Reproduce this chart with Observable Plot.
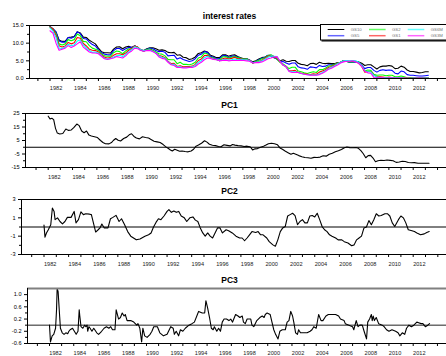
<!DOCTYPE html>
<html>
<head>
<meta charset="utf-8">
<script src="https://cdn.jsdelivr.net/npm/d3@7"></script>
<script src="https://cdn.jsdelivr.net/npm/@observablehq/plot@0.6"></script>
<style>
  body { margin: 0; background: #fff; }
  #chart { position: relative; width: 446px; height: 356px; overflow: hidden;
           font-family: "Liberation Sans", Arial, sans-serif; }
  #chart svg { position: absolute; left: 0; }
  .ttl { position: absolute; left: 0; width: 459px; text-align: center;
         font-weight: bold; font-size: 8.5px; line-height: 10px; color: #000; }
</style>
</head>
<body>
<div id="chart"></div>
<script>
// Treasury constant-maturity yields, quarterly averages from 1982Q1 to 2013Q2 (percent)
const gs10 = [
  14.6,13.9,13.1,10.9, 10.5,10.5,11.6,11.7, 11.9,13.2,12.9,11.7, 11.6,10.8,10.3,9.8,
  8.6,7.6,7.3,7.3, 7.2,8.3,8.9,9.0, 8.4,8.9,9.1,8.8, 9.2,8.8,8.1,7.9,
  8.4,8.7,8.7,8.4, 8.0,8.1,7.9,7.4, 7.3,7.4,6.6,6.7, 6.0,5.9,5.4,5.6,
  6.1,7.1,7.3,7.8, 7.5,6.6,6.3,5.9, 5.9,6.7,6.7,6.3, 6.6,6.7,6.2,5.9,
  5.6,5.6,5.2,4.7, 5.0,5.5,5.9,6.1, 6.5,6.2,5.9,5.6, 5.0,5.3,4.9,4.8,
  5.1,5.1,4.3,4.0, 3.9,3.6,4.2,4.3, 4.0,4.6,4.3,4.2, 4.3,4.2,4.2,4.5,
  4.6,5.1,4.9,4.6, 4.7,4.8,4.7,4.3, 3.7,3.9,3.9,3.3, 2.7,3.3,3.5,3.5,
  3.7,3.5,2.8,2.9, 3.5,3.2,2.4,2.0, 2.0,1.8,1.6,1.7, 1.9,1.9
];
const gs5 = [
  14.7,14.1,13.2,10.6, 10.3,10.3,11.6,11.4, 11.8,13.2,12.7,11.3, 11.2,10.3,9.6,9.2,
  8.1,7.3,6.9,6.7, 6.7,7.9,8.5,8.5, 7.9,8.4,8.8,8.8, 9.3,8.8,8.0,7.8,
  8.3,8.6,8.4,7.9, 7.6,7.7,7.4,6.4, 6.5,6.6,5.5,5.9, 5.4,5.1,4.8,5.0,
  5.6,6.6,6.9,7.6, 7.4,6.3,6.0,5.6, 5.6,6.4,6.5,5.9, 6.3,6.4,6.0,5.7,
  5.5,5.6,5.2,4.4, 4.8,5.3,5.7,6.0, 6.6,6.6,6.0,5.4, 4.7,4.8,4.4,4.0,
  4.4,4.4,3.3,3.0, 2.9,2.6,3.3,3.2, 3.0,3.7,3.4,3.5, 3.9,3.9,4.0,4.4,
  4.6,5.0,4.8,4.6, 4.6,4.7,4.5,3.8, 2.8,3.1,3.1,2.3, 1.8,2.3,2.5,2.3,
  2.4,2.3,1.5,1.3, 2.1,1.9,1.1,0.9, 0.9,0.8,0.7,0.7, 0.8,0.9
];
const gs2 = [
  14.6,14.0,12.7,9.8, 9.5,9.8,11.0,10.7, 11.0,12.6,12.1,10.5, 10.4,9.3,8.6,8.3,
  7.9,7.0,6.4,6.3, 6.3,7.3,7.8,7.6, 7.0,7.8,8.4,8.5, 9.2,8.8,8.0,7.8,
  8.2,8.4,8.0,7.5, 7.0,6.9,6.4,5.4, 5.3,5.3,4.2,4.6, 4.0,4.0,3.9,4.1,
  4.6,5.8,6.1,7.2, 7.0,6.0,5.8,5.4, 5.2,6.1,6.2,5.8, 6.0,6.2,5.9,5.7,
  5.5,5.6,5.0,4.4, 4.8,5.2,5.6,5.9, 6.5,6.7,6.2,5.5, 4.6,4.1,3.5,2.8,
  3.2,3.2,2.1,1.9, 1.6,1.4,1.7,1.9, 1.7,2.5,2.5,2.9, 3.5,3.7,4.0,4.4,
  4.6,5.0,4.8,4.7, 4.7,4.8,4.4,3.6, 2.1,2.4,2.3,1.2, 0.9,1.0,1.0,0.8,
  0.9,0.9,0.5,0.5, 0.7,0.5,0.2,0.25, 0.3,0.3,0.25,0.27, 0.26,0.25
];
const gs1 = [
  14.6,14.0,12.2,9.3, 8.9,9.2,10.2,9.8, 10.1,11.6,11.4,9.9, 9.2,8.3,8.0,7.9,
  7.5,6.7,6.0,5.8, 5.9,6.6,7.0,7.0, 6.7,7.2,8.0,8.5, 9.2,8.9,8.1,7.8,
  8.0,8.2,7.8,7.2, 6.5,6.3,5.9,4.9, 4.2,4.3,3.4,3.6, 3.3,3.4,3.4,3.5,
  4.0,5.1,5.5,6.5, 6.6,5.9,5.6,5.4, 5.0,5.6,5.8,5.5, 5.7,6.0,5.6,5.6,
  5.4,5.4,5.1,4.4, 4.6,4.8,5.2,5.7, 6.3,6.5,6.2,5.8, 4.7,3.8,3.3,2.2,
  2.2,2.3,1.7,1.5, 1.3,1.2,1.1,1.3, 1.2,1.8,2.1,2.5, 3.1,3.4,3.8,4.3,
  4.6,5.0,5.0,4.9, 5.0,4.9,4.3,3.4, 1.8,2.0,2.0,1.0, 0.5,0.5,0.4,0.3,
  0.4,0.3,0.25,0.25, 0.25,0.18,0.11,0.11, 0.16,0.18,0.17,0.17, 0.15,0.13
];
const gs6m = [
  14.3,13.4,11.6,8.6, 8.5,8.9,9.7,9.3, 9.5,10.6,10.9,9.5, 8.7,7.9,7.4,7.5,
  7.2,6.5,5.7,5.5, 5.7,6.1,6.4,6.6, 6.2,6.8,7.6,8.2, 9.0,8.7,8.1,7.9,
  8.0,8.1,7.7,7.2, 6.4,6.0,5.7,4.8, 4.0,4.0,3.3,3.3, 3.1,3.2,3.2,3.3,
  3.7,4.6,5.0,5.9, 6.3,5.8,5.5,5.4, 5.0,5.3,5.4,5.2, 5.3,5.5,5.3,5.4,
  5.3,5.3,5.0,4.5, 4.6,4.7,5.0,5.4, 6.0,6.4,6.3,6.2, 4.9,3.8,3.3,2.1,
  1.9,1.9,1.7,1.4, 1.2,1.1,1.0,1.0, 1.0,1.3,1.7,2.2, 2.8,3.2,3.6,4.2,
  4.6,5.0,5.1,5.0, 5.1,5.0,4.6,3.6, 2.1,1.9,1.9,0.9, 0.4,0.3,0.2,0.2,
  0.2,0.2,0.2,0.19, 0.17,0.11,0.07,0.06, 0.1,0.14,0.14,0.13, 0.12,0.1
];
const gs3m = [
  13.5,12.8,10.0,8.0, 8.3,8.6,9.3,8.8, 9.2,9.8,10.4,8.9, 8.2,7.5,7.2,7.2,
  7.0,6.3,5.6,5.4, 5.6,5.8,6.2,6.0, 5.8,6.4,7.3,7.8, 8.6,8.4,7.9,7.7,
  7.9,7.9,7.6,7.1, 6.1,5.7,5.5,4.6, 3.9,3.7,3.1,3.1, 3.0,3.0,3.1,3.1,
  3.4,4.1,4.6,5.3, 5.8,5.7,5.4,5.3, 5.0,5.1,5.2,5.0, 5.1,5.1,5.1,5.2,
  5.1,5.0,4.9,4.4, 4.5,4.5,4.7,5.1, 5.6,5.8,6.1,6.2, 4.9,3.8,3.3,2.0,
  1.7,1.7,1.7,1.4, 1.2,1.1,0.9,0.9, 0.9,1.1,1.5,2.0, 2.6,2.9,3.4,3.8,
  4.4,4.7,4.9,4.9, 5.0,4.7,4.3,3.4, 2.1,1.6,1.5,0.3, 0.2,0.2,0.2,0.06,
  0.1,0.15,0.15,0.14, 0.13,0.05,0.03,0.02, 0.08,0.09,0.1,0.09, 0.09,0.05
];
const rateNames  = ["GS10", "GS5", "GS2", "GS1", "GS6M", "GS3M"];
const rateColors = ["#000000", "#0000ff", "#00ff00", "#ff0000", "#00ffff", "#ff00ff"];
const rateSeries = [gs10, gs5, gs2, gs1, gs6m, gs3m];
const rateDates  = gs10.map((_, i) => 1982 + i / 4);

// Principal components of the yield curve (level, slope, curvature)
const pc1Dates = [
  1982.0,1982.15,1982.3,1982.45,1982.6,1982.75,1982.95,1983.2,1983.45,1983.65,1983.9,1984.1,1984.35,1984.55,
  1984.75,1984.95,1985.15,1985.35,1985.55,1985.8,1986.05,1986.3,1986.5,1986.7,1987.0,1987.2,1987.35,1987.55,
  1987.75,1987.95,1988.2,1988.45,1988.7,1988.85,1989.05,1989.25,1989.5,1989.75,1990.0,1990.25,1990.45,1990.7,
  1990.95,1991.2,1991.45,1991.65,1991.85,1992.05,1992.2,1992.4,1992.6,1992.8,1993.0,1993.25,1993.5,1993.75,
  1993.95,1994.15,1994.35,1994.6,1994.85,1995.05,1995.25,1995.5,1995.75,1996.0,1996.2,1996.45,1996.7,1996.95,
  1997.15,1997.35,1997.6,1997.85,1998.1,1998.35,1998.6,1998.8,1999.0,1999.2,1999.45,1999.7,1999.9,2000.1,
  2000.35,2000.6,2000.85,2001.05,2001.25,2001.5,2001.75,2001.95,2002.15,2002.35,2002.6,2002.85,2003.1,2003.35,
  2003.6,2003.85,2004.1,2004.35,2004.6,2004.85,2005.1,2005.35,2005.6,2005.85,2006.1,2006.35,2006.55,2006.8,
  2007.05,2007.3,2007.5,2007.7,2007.9,2008.1,2008.3,2008.5,2008.7,2008.9,2009.1,2009.35,2009.6,2009.85,
  2010.1,2010.35,2010.6,2010.85,2011.1,2011.35,2011.6,2011.85,2012.1,2012.4,2012.7,2013.0,2013.3
];
const pc1Values = [
  23,21,21.5,20.5,14,10.5,9.8,10.2,13.5,12.5,12.8,14.5,17.2,16,
  12,10.8,12,9,8.3,7.8,7.2,5,3.5,2.6,2.5,3.5,5,6.5,
  5.2,4.6,6.5,7.5,9.5,10,8,6.8,6.2,7.8,7.2,6.8,5.8,4.5,
  4.0,3.5,2.0,0.5,-0.8,-2.0,-2.8,-1.5,-2.2,-3.0,-2.8,-3.2,-3.4,-2.8,
  -1.5,0.8,1.6,3,4.8,3.8,2.2,1.5,1.2,0.6,0.4,1.8,1.4,1.0,
  2.0,1.6,1.2,1.0,0.6,0.8,0.4,-2.0,-1.2,-1.0,0.0,0.8,1.6,2.6,
  3.0,2.6,1.8,-0.5,-1.5,-3,-4.2,-5.2,-4.5,-5.2,-6.2,-7.0,-7.6,-7.8,
  -8.2,-7.5,-7.6,-7.3,-6.3,-6.6,-5.2,-4.5,-3.4,-2.6,-1.6,-0.3,0.2,-0.3,
  -0.4,-0.2,-0.8,-2.5,-4.8,-7.8,-6.2,-6.0,-8.0,-10.7,-10.0,-9.6,-9.8,-9.5,
  -9.7,-10.0,-11.2,-10.9,-10.4,-10.6,-11.3,-11.5,-11.4,-11.8,-11.9,-11.9,-11.9
];

const pc2Dates = [
  1982.0,1982.08,1982.2,1982.35,1982.55,1982.68,1982.82,1982.9,1983.1,1983.3,1983.5,1983.7,1983.9,1984.2,
  1984.45,1984.6,1984.8,1985.0,1985.2,1985.4,1985.7,1985.85,1986.05,1986.2,1986.4,1986.55,1986.7,1986.9,
  1987.2,1987.4,1987.6,1987.85,1988.1,1988.3,1988.55,1988.8,1989.05,1989.5,1989.8,1990.2,1990.5,1990.7,
  1990.9,1991.1,1991.3,1991.5,1991.75,1992.0,1992.15,1992.35,1992.55,1992.75,1992.95,1993.15,1993.4,1993.6,
  1993.85,1994.1,1994.3,1994.5,1994.7,1994.9,1995.1,1995.3,1995.5,1995.7,1995.9,1996.1,1996.3,1996.5,
  1996.8,1997.0,1997.3,1997.6,1997.9,1998.1,1998.3,1998.5,1998.7,1998.9,1999.2,1999.4,1999.6,1999.8,
  2000.1,2000.3,2000.6,2000.8,2001.0,2001.2,2001.4,2001.6,2001.8,2002.0,2002.2,2002.4,2002.6,2002.8,
  2003.0,2003.2,2003.4,2003.6,2003.8,2004.0,2004.2,2004.4,2004.6,2004.8,2005.0,2005.2,2005.4,2005.7,
  2005.9,2006.2,2006.4,2006.7,2007.0,2007.2,2007.4,2007.6,2007.8,2008.0,2008.2,2008.4,2008.6,2008.8,
  2009.0,2009.2,2009.4,2009.7,2009.9,2010.1,2010.3,2010.5,2010.8,2011.0,2011.2,2011.4,2011.6,2011.9,
  2012.1,2012.3,2012.6,2012.9,2013.1,2013.3
];
const pc2Values = [
  0.2,-1.1,-0.65,-0.3,0.25,2.07,1.7,0.8,1.0,0.6,0.33,0.6,1.05,1.05,
  1.7,0.45,0.8,1.65,1.35,1.45,1.4,1.35,0.25,-0.55,-0.3,-0.1,0.33,-0.1,
  -0.1,0.9,1.05,1.27,0.6,0.9,0.25,-0.5,-1.0,-1.4,-1.3,-1.0,-0.85,-0.65,
  0.0,0.5,0.9,0.8,1.2,1.7,1.9,1.6,1.75,1.6,1.7,1.2,1.0,0.6,
  1.0,1.1,0.75,0.6,-0.1,-0.65,-1.0,-0.65,-1.0,-1.2,-0.65,-0.1,-0.1,-0.65,
  -0.3,-0.4,-0.65,-1.0,-1.2,-1.2,-1.5,-1.2,-0.85,-0.5,-0.6,-0.5,-0.85,-0.85,
  -1.2,-1.6,-1.95,-2.1,-1.4,-0.5,-0.1,0.05,1.2,1.35,1.5,1.25,0.25,0.6,
  0.8,0.45,0.45,1.2,1.25,1.1,1.5,0.8,0.05,-0.3,-0.5,-0.85,-1.0,-1.2,
  -1.4,-1.4,-1.6,-1.75,-2.05,-1.95,-1.4,-1.2,-1.0,-0.1,0.0,0.7,0.25,0.8,
  1.45,1.2,1.25,1.45,1.45,1.2,0.45,0.05,0.8,1.2,1.0,0.45,-0.3,-0.4,
  -0.5,-0.65,-0.85,-0.75,-0.6,-0.5
];

const pc3Dates = [
  1982.0,1982.08,1982.22,1982.35,1982.5,1982.58,1982.63,1982.71,1982.82,1982.9,1983.05,1983.2,1983.35,1983.5,
  1983.6,1983.7,1983.9,1984.05,1984.2,1984.35,1984.45,1984.5,1984.6,1984.75,1984.9,1985.0,1985.1,1985.15,
  1985.25,1985.35,1985.5,1985.65,1985.9,1986.05,1986.3,1986.5,1986.7,1986.9,1987.05,1987.2,1987.4,1987.5,
  1987.7,1987.85,1988.0,1988.15,1988.25,1988.4,1988.7,1988.95,1989.2,1989.3,1989.45,1989.6,1989.7,1989.85,
  1990.05,1990.3,1990.45,1990.6,1990.9,1991.1,1991.4,1991.7,1992.0,1992.2,1992.3,1992.45,1992.65,1992.8,
  1993.0,1993.2,1993.5,1993.75,1993.95,1994.2,1994.3,1994.6,1994.8,1994.9,1995.05,1995.2,1995.35,1995.5,
  1995.6,1995.8,1995.95,1996.1,1996.25,1996.4,1996.6,1996.8,1996.95,1997.1,1997.2,1997.35,1997.55,1997.7,
  1997.9,1998.0,1998.15,1998.3,1998.6,1998.7,1998.85,1999.1,1999.35,1999.55,1999.7,1999.8,1999.95,2000.2,
  2000.35,2000.5,2000.65,2000.85,2001.0,2001.2,2001.45,2001.6,2001.75,2001.9,2002.05,2002.15,2002.3,2002.45,
  2002.55,2002.7,2003.0,2003.25,2003.5,2003.65,2003.8,2004.0,2004.2,2004.4,2004.55,2004.8,2005.0,2005.3,
  2005.6,2005.85,2006.0,2006.3,2006.4,2006.7,2007.0,2007.1,2007.3,2007.45,2007.6,2007.8,2007.95,2008.15,
  2008.25,2008.4,2008.55,2008.62,2008.7,2008.8,2008.95,2009.15,2009.45,2009.6,2009.8,2010.0,2010.25,2010.55,
  2010.75,2010.9,2011.1,2011.3,2011.45,2011.65,2011.85,2012.05,2012.3,2012.45,2012.65,2012.8,2013.0,2013.2,
  2013.35
];
const pc3Values = [
  0.0,-0.55,-0.35,-0.3,-0.1,0.5,1.2,1.1,0.4,-0.1,-0.25,-0.3,-0.25,-0.28,
  -0.2,-0.15,-0.1,-0.2,-0.3,-0.2,0.5,0.3,-0.05,-0.1,0.0,-0.05,0.0,-0.2,
  -0.05,-0.1,-0.2,-0.1,-0.25,-0.3,-0.2,-0.1,-0.05,-0.1,-0.05,-0.15,-0.15,0.5,
  0.2,0.25,0.4,0.3,0.35,0.15,0.15,0.1,0.0,0.05,-0.1,-0.55,-0.1,-0.35,
  -0.4,-0.3,-0.2,-0.05,-0.05,-0.25,-0.35,-0.3,-0.05,-0.1,-0.3,-0.2,-0.35,-0.15,
  -0.2,-0.1,0.0,0.05,0.1,0.35,0.45,0.4,0.4,0.8,0.55,0.25,-0.1,-0.15,
  -0.05,-0.2,-0.1,-0.2,0.1,0.2,0.2,0.15,0.2,0.1,0.2,0.35,0.3,0.25,
  0.3,0.1,0.05,0.2,0.2,0.0,-0.05,0.15,0.25,0.3,0.25,0.35,0.4,0.35,
  0.1,-0.15,-0.3,-0.45,-0.2,-0.15,-0.15,0.1,0.15,0.45,0.3,0.1,-0.25,-0.3,
  -0.15,-0.25,-0.25,-0.25,-0.2,-0.15,-0.05,-0.1,0.35,0.15,0.15,0.3,0.35,0.35,
  0.35,0.3,0.2,0.15,0.05,0.0,-0.05,-0.15,0.15,-0.05,0.0,0.0,-0.2,-0.45,
  0.1,0.2,0.35,0.15,0.3,0.15,0.25,0.05,0.0,-0.05,-0.15,-0.2,-0.15,-0.2,
  -0.25,-0.35,-0.25,-0.3,-0.1,0.0,-0.05,0.0,0.1,0.08,0.05,0.05,-0.05,0.0,
  0.05
];

const font = '"Liberation Sans", Arial, sans-serif';
const chart = document.getElementById("chart");

// One framed time-series panel: left axis, top border, bottom axis with yearly ticks
function panel(o) {
  const R = 446;
  const k = (o.x2012 - o.x1982) / 30;
  const d0 = 1982 - (o.x1982 - o.left) / k;
  const d1 = 2012 + (R - o.x2012) / k;
  const [y0, y1] = o.yDomain;
  const years = d3.range(Math.ceil(d0), Math.floor(d1) + 1);
  const labelYears = d3.range(1982, 2013, 2);
  const svg = Plot.plot({
    width: 446, height: o.height,
    marginTop: o.mTop, marginBottom: o.mBottom, marginLeft: o.left, marginRight: 0,
    x: {domain: [d0, d1]},
    y: {domain: [y0, y1]},
    style: {fontFamily: font, fontSize: "5.6px", color: "#000", background: "transparent", overflow: "visible"},
    marks: [
      ...o.marks,
      Plot.ruleY([y1], {stroke: o.topStroke || "#000", strokeWidth: o.topWidth || 1}),
      Plot.ruleY([y0], {stroke: "#000"}),
      Plot.ruleX([d0], {stroke: "#000"}),
      Plot.axisY({ticks: o.yMajor, tickSize: 3, tickPadding: 3, tickFormat: o.yFormat, label: null}),
      Plot.axisY({ticks: o.yMinor, tickSize: 2, tickFormat: () => "", label: null}),
      Plot.axisX({ticks: years, tickSize: 3, tickFormat: () => "", label: null}),
      Plot.axisX({ticks: labelYears.map(y => y + 0.5), tickSize: 0, tickPadding: 7.5,
                  tickFormat: d => String(Math.floor(d)), label: null, fill: "#222"})
    ]
  });
  svg.style.top = o.top + "px";
  chart.appendChild(svg);
  const t = document.createElement("div");
  t.className = "ttl";
  t.style.top = o.titleTop + "px";
  t.textContent = o.title;
  chart.appendChild(t);
}

panel({
  title: "interest rates", titleTop: 10.5,
  top: 0, height: 92, mTop: 25, mBottom: 14, left: 29, x1982: 49.5, x2012: 412.7,
  yDomain: [0, 15], yMajor: [0, 5, 10, 15], yMinor: [2.5, 7.5, 12.5],
  yFormat: d => d.toFixed(1),
  marks: rateSeries.map((s, i) =>
    Plot.line(s, {x: rateDates, y: s, stroke: rateColors[i], strokeWidth: 1.1}))
});

panel({
  title: "PC1", titleTop: 100,
  top: 92, height: 88, mTop: 21, mBottom: 13, left: 25, x1982: 47.7, x2012: 412.7,
  yDomain: [-15, 25], yMajor: [-15, -5, 5, 15, 25], yMinor: [-10, 0, 10, 20],
  yFormat: d => String(d),
  marks: [
    Plot.ruleY([0], {stroke: "#000"}),
    Plot.line(pc1Values, {x: pc1Dates, y: pc1Values, stroke: "#000", strokeWidth: 1.1})
  ]
});

panel({
  title: "PC2", titleTop: 185.5,
  top: 180, height: 88, mTop: 19, mBottom: 14, left: 21, x1982: 43.5, x2012: 412.7,
  yDomain: [-3, 3], yMajor: [-3, -1, 1, 3], yMinor: [-2, 0, 2],
  yFormat: d => String(d),
  marks: [
    Plot.ruleY([0], {stroke: "#000"}),
    Plot.line(pc2Values, {x: pc2Dates, y: pc2Values, stroke: "#000", strokeWidth: 1.1})
  ]
});

panel({
  title: "PC3", titleTop: 275,
  top: 268, height: 88, mTop: 20, mBottom: 13, left: 27, x1982: 49, x2012: 412.7,
  yDomain: [-0.6, 1.2], yMajor: [-0.6, -0.2, 0.2, 0.6, 1.0], yMinor: [-0.4, 0, 0.4, 0.8],
  yFormat: d => d.toFixed(1),
  topStroke: "#808080", topWidth: 1.8,
  marks: [
    Plot.ruleY([0], {stroke: "#222"}),
    Plot.line(pc3Values, {x: pc3Dates, y: pc3Values, stroke: "#000", strokeWidth: 1.1})
  ]
});

// Series key in the upper-right corner of the first panel
const key = d3.select(chart).append("svg")
  .attr("width", 446).attr("height", 50)
  .style("top", "0px");
key.append("rect").attr("x", 321.5).attr("y", 40).attr("width", 130).attr("height", 1.6).attr("fill", "#333");
key.append("rect").attr("x", 320.5).attr("y", 24.5).attr("width", 130).attr("height", 15.5)
  .attr("fill", "#fff").attr("stroke", "#000").attr("stroke-width", 1);
const keyCols = [327.7, 369, 407.7];
const keyRows = [29.5, 35.7];
rateNames.forEach((name, i) => {
  const cx = keyCols[Math.floor(i / 2)], cy = keyRows[i % 2];
  key.append("line").attr("x1", cx).attr("x2", cx + 16.6).attr("y1", cy).attr("y2", cy)
    .attr("stroke", rateColors[i]).attr("stroke-width", i === 0 ? 1 : 1.5)
    .attr("stroke-opacity", i === 0 ? 1 : 0.6);
  key.append("text").attr("x", cx + 23).attr("y", cy + 1.5)
    .attr("font-family", font).attr("font-size", 4.3).attr("fill", "#777").text(name);
});
</script>
</body>
</html>
